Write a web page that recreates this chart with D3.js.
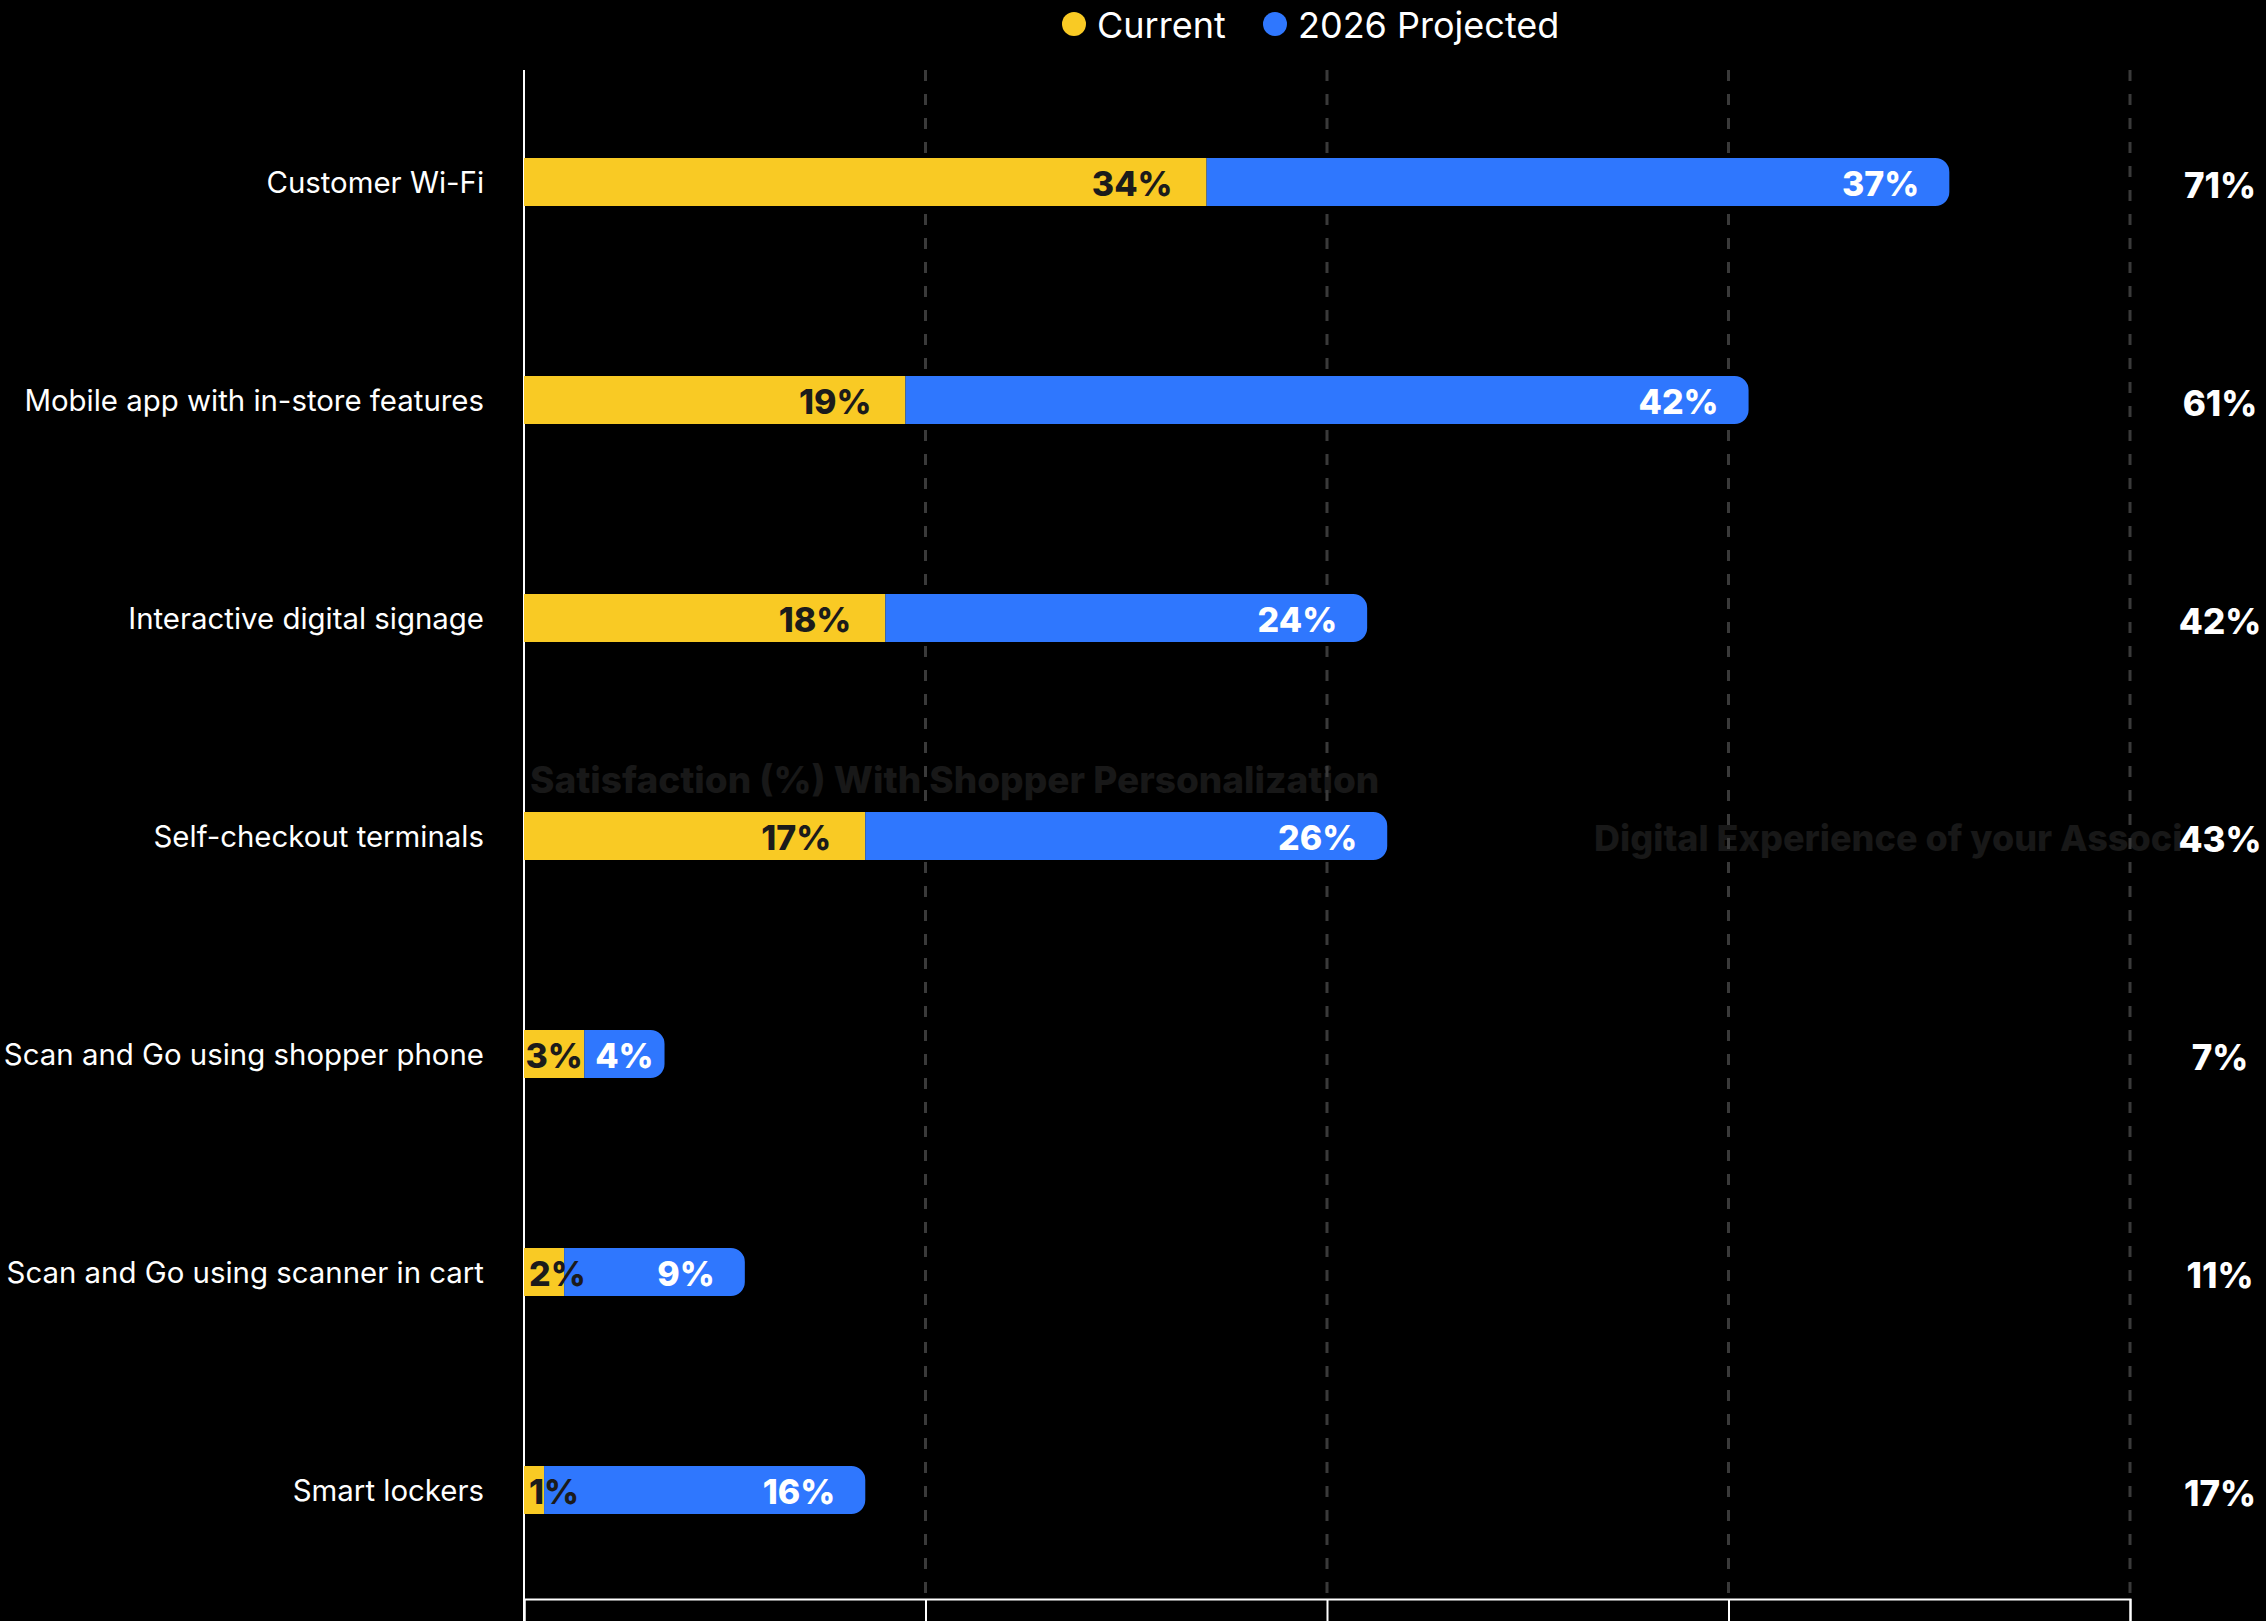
<!DOCTYPE html>
<html>
<head>
<meta charset="utf-8">
<script src="https://cdn.jsdelivr.net/npm/d3@7"></script>
<style>
  html, body { margin: 0; padding: 0; background: #000; overflow: hidden; }
  svg { display: block; }
</style>
</head>
<body>
<svg id="chart" width="2266" height="1621"></svg>
<script>
// Adoption of in-store digital technologies: today vs. 2026 plans
const categories = [
  "Customer Wi-Fi",
  "Mobile app with in-store features",
  "Interactive digital signage",
  "Self-checkout terminals",
  "Scan and Go using shopper phone",
  "Scan and Go using scanner in cart",
  "Smart lockers"
];
const currentValues = [34, 19, 18, 17, 3, 2, 1];
const projectedValues = [37, 42, 24, 26, 4, 9, 16];
const totalValues = [71, 61, 42, 43, 7, 11, 17];
const xTickValues = [0, 20, 40, 60, 80];
const seriesNames = ["Current", "2026 Projected"];
const backgroundTitles = [
  "Satisfaction (%) With Shopper Personalization",
  "Digital Experience of your Associates"
];

const COLORS = { current: "#F9CA24", projected: "#2F77FE" };
const FONT = "Inter, 'Open Sans', sans-serif";

const W = 2266, H = 1621;
const svg = d3.select("#chart");
svg.append("rect").attr("width", W).attr("height", H).attr("fill", "#000");

const x = d3.scaleLinear().domain([0, 80]).range([524, 2130]);
const y = d3.scaleBand().domain(categories).range([73, 1599]).padding(0);
const barH = 48;
const plotTop = 70, plotBottom = 1599;

// the second faint title is hidden where the totals column sits
const defs = svg.append("defs");
const clip = defs.append("clipPath").attr("id", "bg-clip");
clip.append("rect").attr("x", 0).attr("y", 0).attr("width", 2184).attr("height", H);

// faint section titles sitting behind the plot
const bg = svg.append("g").attr("font-family", FONT).attr("font-weight", 800)
  .attr("fill", "#181818");
bg.append("text").attr("x", 530).attr("y", 793).attr("font-size", 37).text(backgroundTitles[0]);
bg.append("text").attr("x", 1594).attr("y", 851).attr("font-size", 36)
  .attr("clip-path", "url(#bg-clip)").text(backgroundTitles[1]);

// dashed vertical gridlines
svg.append("g").selectAll("line")
  .data(xTickValues.filter(d => d > 0))
  .join("line")
  .attr("x1", d => x(d)).attr("x2", d => x(d))
  .attr("y1", plotTop).attr("y2", plotBottom)
  .attr("stroke", "#3a3a3a").attr("stroke-width", 3)
  .attr("stroke-dasharray", "11,13");

// bottom axis: line and long ticks only
const xAxis = d3.axisBottom(x).tickValues(xTickValues).tickSize(40).tickFormat("");
const gx = svg.append("g").attr("transform", `translate(0,${plotBottom})`).call(xAxis);
gx.select(".domain").attr("stroke", "#fff").attr("stroke-width", 2);
gx.selectAll(".tick line").attr("stroke", "#fff").attr("stroke-width", 2);
gx.selectAll(".tick text").remove();

// left axis line
svg.append("line").attr("x1", x(0)).attr("x2", x(0))
  .attr("y1", plotTop).attr("y2", H + 10)
  .attr("stroke", "#fff").attr("stroke-width", 2);

// category labels
svg.append("g").selectAll("text").data(categories).join("text")
  .attr("x", 484).attr("y", d => y(d) + y.bandwidth() / 2)
  .attr("text-anchor", "end").attr("dominant-baseline", "central")
  .attr("font-family", FONT).attr("font-size", 29.4).attr("fill", "#fff")
  .text(d => d);

// right-rounded path for the projected segment
function roundedRight(x0, x1, yTop, h, r) {
  r = Math.min(r, (x1 - x0), h / 2);
  return `M${x0},${yTop}H${x1 - r}A${r},${r} 0 0 1 ${x1},${yTop + r}` +
         `V${yTop + h - r}A${r},${r} 0 0 1 ${x1 - r},${yTop + h}H${x0}Z`;
}

const rows = categories.map((c, i) => ({
  cat: c, cur: currentValues[i], proj: projectedValues[i], total: totalValues[i]
}));

const bars = svg.append("g");
const rowG = bars.selectAll("g").data(rows).join("g")
  .attr("transform", d => `translate(0,${y(d.cat) + y.bandwidth() / 2 - barH / 2})`);

rowG.append("rect")
  .attr("x", x(0)).attr("y", 0)
  .attr("width", d => x(d.cur) - x(0)).attr("height", barH)
  .attr("fill", COLORS.current);

rowG.append("path")
  .attr("d", d => roundedRight(x(d.cur), x(d.cur + d.proj), 0, barH, 14))
  .attr("fill", COLORS.projected);

// segment value labels: end-aligned when room, otherwise centred, otherwise clamped to start
function placeLabel(sel, x0, x1, pad) {
  const w = sel.node().getComputedTextLength();
  if (x1 - pad - w >= x0 + 4) {
    sel.attr("x", x1 - pad).attr("text-anchor", "end");
  } else if (w <= x1 - x0) {
    sel.attr("x", (x0 + x1) / 2).attr("text-anchor", "middle");
  } else {
    sel.attr("x", x0 + 5).attr("text-anchor", "start");
  }
}

rowG.each(function (d) {
  const g = d3.select(this);
  const t1 = g.append("text").attr("y", barH / 2 + 1).attr("dominant-baseline", "central")
    .attr("font-family", FONT).attr("font-weight", 800).attr("font-size", 34)
    .attr("fill", "#1b1b1b").text(d.cur + "%");
  placeLabel(t1, x(0), x(d.cur), 34);
  const t2 = g.append("text").attr("y", barH / 2 + 1).attr("dominant-baseline", "central")
    .attr("font-family", FONT).attr("font-weight", 800).attr("font-size", 34)
    .attr("fill", "#fff").text(d.proj + "%");
  placeLabel(t2, x(d.cur), x(d.cur + d.proj), 30);
});

// totals column on the right
const totG = svg.append("g").selectAll("g").data(rows).join("g")
  .attr("transform", d => `translate(2220,${y(d.cat) + y.bandwidth() / 2 + 3})`);
totG.append("text").attr("text-anchor", "middle").attr("dominant-baseline", "central")
  .attr("font-family", FONT).attr("font-weight", 800).attr("font-size", 35)
  .attr("fill", "#fff").text(d => d.total + "%");

// legend
const legendItems = [
  { name: seriesNames[0], color: COLORS.current, cx: 1074, tx: 1097 },
  { name: seriesNames[1], color: COLORS.projected, cx: 1275, tx: 1298 }
];
const lg = svg.append("g").selectAll("g").data(legendItems).join("g");
lg.append("circle").attr("cx", d => d.cx).attr("cy", 24).attr("r", 12).attr("fill", d => d.color);
lg.append("text").attr("x", d => d.tx).attr("y", 25).attr("dominant-baseline", "central")
  .attr("font-family", FONT).attr("font-size", 36).attr("fill", "#fff").text(d => d.name);
</script>
</body>
</html>
